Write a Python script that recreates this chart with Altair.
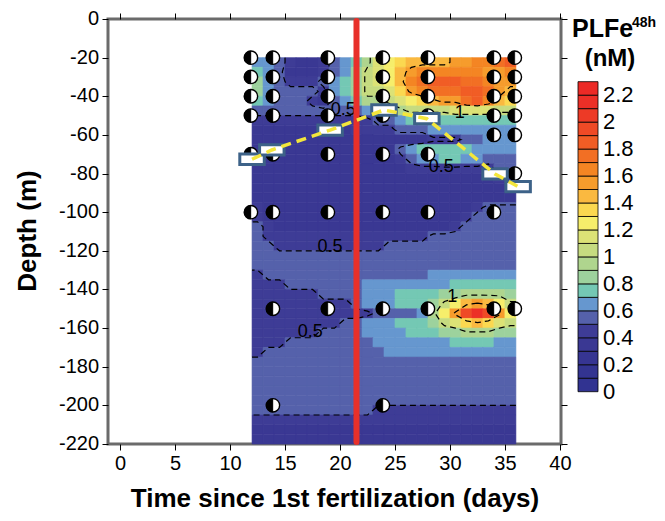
import altair as alt
import numpy as np
import pandas as pd
from collections import defaultdict

# ---------------- data ----------------
# PLFe48h field: 1-day columns (day 12 -> 36), 5-m rows (20 m -> 220 m)
day_edges = list(range(12, 37))
depth_edges = list(range(20, 225, 5))
# each character = colour bin (0-9 -> 0.0-1.0 nM, A-M -> 1.0-2.3 nM); value = bin middle
bin_codes = "0123456789ABCDEFGHIJKLM"
field_rows = [
    "66543345679BCDEEEEFFGGHI",  # 20-25
    "7653334568ABCEFGGGGGGFFG",  # 25-30
    "8654445678ABCEGHIIIHHGFF",  # 30-35
    "8655554678AABDFGHHHIIHFE",  # 35-40
    "765554356799ABCDEFFHIGED",  # 40-45
    "55555555556789AAAABBBBAA",  # 45-50
    "444444444445567777777777",  # 50-55
    "333333333444455566666666",  # 55-60
    "333333333333333344455666",  # 60-65
    "333333333333356777776666",  # 65-70
    "333333333333345667766555",  # 70-75
    "333333333333334444444455",  # 75-80
    "333333333333333333333344",  # 80-85
    "333333333333333333333333",  # 85-90
    "333333333333333333333333",  # 90-95
    "433333333333333333334555",  # 95-100
    "433333333333333333345555",  # 100-105
    "543333333333333333455555",  # 105-110
    "544444444444444455555555",  # 110-115
    "554444444444555555555555",  # 115-120
    "555555555555555555555555",  # 120-125
    "555555555555555555555555",  # 125-130
    "455555555555555566666666",  # 130-135
    "444555555566666666777777",  # 135-140
    "444444555566677778899998",  # 140-145
    "44444444456667778ACEFECA",  # 145-150
    "44444444444555569CFJLJFC",  # 150-155
    "44444444556667778ABDEDBA",  # 155-160
    "444444555566667778899988",  # 160-165
    "444555555556666666777766",  # 165-170
    "455555555555666666666666",  # 170-175
    "555555555555555555555555",  # 175-180
    "555555555555555555555555",  # 180-185
    "555555555555555555555555",  # 185-190
    "555555555555555555555555",  # 190-195
    "555555555555555555555555",  # 195-200
    "555555555554444444444444",  # 200-205
    "444444444444444444444444",  # 205-210
    "333333333333333333333333",  # 210-215
    "333333333333333333333333",  # 215-220
]

bin_colors = [
    "#313391", "#333491", "#363592", "#3a3893", "#3e3c96",
    "#5561ab", "#6697cf", "#74c8b4", "#9dd29d", "#afd58e",
    "#c6db80", "#dce276", "#f6ee6b", "#fbd850", "#fab940",
    "#f69c2c", "#f48523", "#f26f24", "#f15d25", "#ef4a26",
    "#ed3a26", "#ec2f27", "#ec2a26",
]
legend_labels = ["0", "0.2", "0.4", "0.6", "0.8", "1", "1.2", "1.4", "1.6", "1.8", "2", "2.2"]
legend_label_values = [0, 0.2, 0.4, 0.6, 0.8, 1.0, 1.2, 1.4, 1.6, 1.8, 2.0, 2.2]

# axis ticks
xticks = [0, 5, 10, 15, 20, 25, 30, 35, 40]
yticks = [0, -20, -40, -60, -80, -100, -120, -140, -160, -180, -200, -220]
ytick_labels = ["0", "-20", "-40", "-60", "-80", "-100", "-120", "-140", "-160", "-180", "-200", "-220"]

# sampling points (half-filled circles)
sample_day = ([11.9] * 6 + [13.9] * 8 + [18.9] * 7 + [23.9] * 8 + [28.0] * 7 + [34.0] * 7 + [35.9] * 7)
sample_depth = ([-20, -30, -40, -50, -70, -100] +
                [-20, -30, -40, -50, -70, -100, -150, -200] +
                [-20, -30, -40, -50, -70, -100, -150] +
                [-20, -30, -40, -50, -70, -100, -150, -200] +
                [-20, -30, -40, -50, -70, -100, -150] +
                [-20, -30, -40, -50, -60, -100, -150] +
                [-20, -30, -40, -50, -60, -80, -150])

# mixed-layer depth (boxes + yellow dashed line)
mld_day = [12.0, 13.8, 19.1, 24.0, 27.9, 34.1, 36.2]
mld_depth = [-72.6, -67.8, -57.5, -47.1, -51.6, -80.2, -86.8]

fertilization_day = [21.5]

contour_levels = [0.5, 1.0, 1.5]
clabel_day = [20.3, 30.9, 29.2, 19.1, 17.3, 30.2]
clabel_depth = [-47.1, -48.7, -76.4, -117.9, -161.8, -143.7]
clabel_text = ["0.5", "1", "0.5", "0.5", "0.5", "1"]

# ---------------- tables ----------------
grid = np.array([[(bin_codes.index(ch) + 0.5) / 10 for ch in row] for row in field_rows])
recs = []
for r in range(len(field_rows)):
    for c in range(len(field_rows[0])):
        recs.append(dict(d0=day_edges[c], d1=day_edges[c + 1],
                         z0=-depth_edges[r], z1=-depth_edges[r + 1], v=grid[r, c]))
field_df = pd.DataFrame(recs)

# contour lines (marching squares over the cell centres)
V = np.pad(grid, 1, mode="edge")
xs = np.array([12.0] + [12.5 + i for i in range(grid.shape[1])] + [36.0])
zs = np.array([20.0] + [22.5 + 5 * j for j in range(grid.shape[0])] + [220.0])


def contour(level):
    def cross(p, q):
        t = (level - V[p]) / (V[q] - V[p])
        x = xs[p[1]] + t * (xs[q[1]] - xs[p[1]])
        z = zs[p[0]] + t * (zs[q[0]] - zs[p[0]])
        return (round(float(x), 6), round(float(z), 6))

    segs = []
    for j in range(V.shape[0] - 1):
        for i in range(V.shape[1] - 1):
            a, b, c, d = (j, i), (j, i + 1), (j + 1, i + 1), (j + 1, i)
            edges = [(a, b), (b, c), (d, c), (a, d)]
            pts = [cross(p, q) for p, q in edges if (V[p] > level) != (V[q] > level)]
            if len(pts) == 2:
                segs.append((pts[0], pts[1]))
            elif len(pts) == 4:
                centre = (V[a] + V[b] + V[c] + V[d]) / 4
                if (centre > level) == (V[a] > level):
                    segs.append((pts[0], pts[1]))
                    segs.append((pts[2], pts[3]))
                else:
                    segs.append((pts[0], pts[3]))
                    segs.append((pts[1], pts[2]))
    adj = defaultdict(list)
    for k, (p, q) in enumerate(segs):
        adj[p].append(k)
        adj[q].append(k)
    used = [False] * len(segs)
    lines = []
    for k in range(len(segs)):
        if used[k]:
            continue
        used[k] = True
        line = [segs[k][0], segs[k][1]]
        for forward in (True, False):
            while True:
                end = line[-1] if forward else line[0]
                nxt = [m for m in adj[end] if not used[m]]
                if not nxt:
                    break
                m = nxt[0]
                used[m] = True
                p, q = segs[m]
                other = q if p == end else p
                if forward:
                    line.append(other)
                else:
                    line.insert(0, other)
        lines.append(line)
    return lines


crecs = []
lid = 0
for lev in contour_levels:
    for line in contour(lev):
        for o, (x, z) in enumerate(line):
            crecs.append(dict(lid=lid, o=o, day=x, depth=-z))
        lid += 1
contour_df = pd.DataFrame(crecs)

samples_df = pd.DataFrame({"day": sample_day, "depth": sample_depth})
mld_df = pd.DataFrame({"day": mld_day, "depth": mld_depth})
fert_df = pd.DataFrame({"day": fertilization_day})
clabel_df = pd.DataFrame({"day": clabel_day, "depth": clabel_depth, "t": clabel_text})
ylab_df = pd.DataFrame({"v": yticks, "t": ytick_labels})
leg_df = pd.DataFrame({"lo": [k / 10 for k in range(23)], "hi": [(k + 1) / 10 for k in range(23)],
                       "mid": [(k + 0.5) / 10 for k in range(23)]})
leglab_df = pd.DataFrame({"val": legend_label_values, "lab": legend_labels})

# ---------------- scales / axes ----------------
FONT = "Liberation Sans"
thresholds = [round(k / 10, 1) for k in range(1, 23)]
cscale = alt.Scale(type="threshold", domain=thresholds, range=bin_colors)
xsc = alt.Scale(domain=[-1.1, 40.1], nice=False, zero=False)
ysc = alt.Scale(domain=[-220, 0], nice=False, zero=False)
lsc = alt.Scale(domain=[-0.388, 2.765], nice=False, zero=False)

x_axis = alt.Axis(values=xticks, orient="bottom", title="Time since 1st fertilization (days)",
                  titleFontSize=26, titleFontWeight="bold", labelFontSize=20, tickSize=6,
                  labelPadding=3, titlePadding=12, labelFlush=False, labelOverlap=False,
                  grid=False, domain=False)
y_axis = alt.Axis(values=yticks, orient="left", title="", labels=False, tickSize=6,
                  grid=False, domain=False)
top_axis = alt.Axis(values=xticks, orient="top", labels=False, title="", tickSize=6,
                    grid=False, domain=False)
right_axis = alt.Axis(values=yticks, orient="right", labels=False, title="", tickSize=6,
                      grid=False, domain=False)


def X(f):
    return alt.X(f, type="quantitative", scale=xsc, axis=x_axis)


def Y(f):
    return alt.Y(f, type="quantitative", scale=ysc, axis=y_axis)


field = alt.Chart(field_df).mark_rect(strokeWidth=0.6).encode(
    x=X("d0"), x2="d1", y=Y("z0"), y2="z1",
    color=alt.Color("v:Q", scale=cscale, legend=None),
    stroke=alt.Stroke("v:Q", scale=cscale, legend=None),
)
contours = alt.Chart(contour_df).mark_line(color="black", strokeWidth=1.2, strokeDash=[6, 4]).encode(
    x=X("day"), y=Y("depth"), detail="lid:N", order="o:Q")
clabels = alt.Chart(clabel_df).mark_text(font=FONT, fontSize=18, color="black").encode(
    x=X("day"), y=Y("depth"), text="t:N")
redline = alt.Chart(fert_df).mark_rule(color="#e8302a", strokeWidth=6, strokeCap="round").encode(
    x=X("day"), y=alt.datum(-1, scale=ysc, axis=y_axis), y2=alt.datum(-219))
circ_white = alt.Chart(samples_df).mark_point(shape="circle", filled=True, fill="white",
                                              stroke="black", strokeWidth=1.4, size=180,
                                              opacity=1).encode(x=X("day"), y=Y("depth"))
circ_black = alt.Chart(samples_df).mark_point(shape="M0,-1A1,1,0,0,0,0,1Z", filled=True,
                                              fill="black", stroke="black", strokeWidth=0.4,
                                              size=180, opacity=1).encode(x=X("day"), y=Y("depth"))
boxes = alt.Chart(mld_df).mark_point(shape="M-1,-0.42L1,-0.42L1,0.42L-1,0.42Z", filled=True,
                                     fill="white", stroke="#3d6288", strokeWidth=3, size=600,
                                     opacity=1).encode(x=X("day"), y=Y("depth"))
mldline = alt.Chart(mld_df).mark_line(color="#f3e63c", strokeWidth=3.5, strokeDash=[10, 6]).encode(
    x=X("day"), y=Y("depth"))
ylabels = alt.Chart(ylab_df).mark_text(font=FONT, fontSize=20, align="right", baseline="middle",
                                       color="black").encode(
    x=alt.value(-9), y=Y("v"), text="t:N")
ytitle = alt.Chart(pd.DataFrame({"t": ["Depth (m)"]})).mark_text(
    font=FONT, fontSize=26, fontWeight="bold", angle=270, align="center",
    baseline="middle", color="black").encode(x=alt.value(-80), y=alt.value(212), text="t:N")

main = alt.layer(field, contours, clabels, redline, circ_white, circ_black, boxes, mldline,
                 ylabels, ytitle)

mirror = alt.Chart(samples_df).mark_point(opacity=0).encode(
    x=alt.X("day:Q", scale=xsc, axis=top_axis),
    y=alt.Y("depth:Q", scale=ysc, axis=right_axis))

leg_rects = alt.Chart(leg_df).mark_rect(stroke="black", strokeWidth=0.8).encode(
    x=alt.value(470), x2=alt.value(490),
    y=alt.Y("lo:Q", scale=lsc, axis=None), y2="hi",
    color=alt.Color("mid:Q", scale=cscale, legend=None))
leg_labels = alt.Chart(leglab_df).mark_text(font=FONT, fontSize=22, align="left",
                                            baseline="middle", color="black").encode(
    x=alt.value(495), y=alt.Y("val:Q", scale=lsc, axis=None), text="lab:N")
t1 = alt.Chart(pd.DataFrame({"t": ["PLFe"]})).mark_text(
    font=FONT, fontSize=25, fontWeight="bold", align="left", baseline="alphabetic").encode(
    x=alt.value(464), y=alt.value(18), text="t:N")
t2 = alt.Chart(pd.DataFrame({"t": ["48h"]})).mark_text(
    font=FONT, fontSize=14, fontWeight="bold", align="left", baseline="alphabetic").encode(
    x=alt.value(524), y=alt.value(8), text="t:N")
t3 = alt.Chart(pd.DataFrame({"t": ["(nM)"]})).mark_text(
    font=FONT, fontSize=24, fontWeight="bold", align="center", baseline="alphabetic").encode(
    x=alt.value(502), y=alt.value(47), text="t:N")
legend = alt.layer(leg_rects, leg_labels, t1, t2, t3)

chart = alt.layer(main, mirror, legend).resolve_scale(
    x="independent", y="independent"
).properties(
    width=453, height=425,
    autosize=alt.AutoSizeParams(type="none"),
    padding={"left": 100, "top": 11, "right": 96, "bottom": 69},
).configure_view(
    stroke="#6b6b6b", strokeWidth=3
).configure_axis(
    labelFont=FONT, titleFont=FONT, labelColor="black", titleColor="black",
    tickColor="black", tickWidth=1
)

chart.save("out.html", embed_options={"renderer": "svg", "actions": False})
